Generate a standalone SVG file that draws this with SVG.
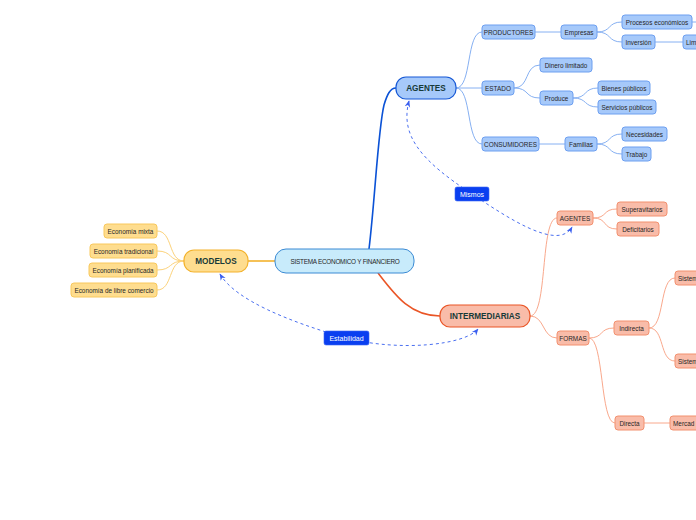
<svg xmlns="http://www.w3.org/2000/svg" width="696" height="520" viewBox="0 0 696 520">
<style>
text{font-family:"Liberation Sans",Arial,sans-serif;text-anchor:middle;dominant-baseline:central}
.bs rect{fill:#a6c9fa;stroke:#6d9ff0;stroke-width:1}
.os rect{fill:#f9bca9;stroke:#f2906f;stroke-width:1}
.ys rect{fill:#fedd8f;stroke:#f8c85c;stroke-width:1}
.st{font-size:6.4px;fill:#262626}
.mt{font-size:8.2px;fill:#173a38;font-weight:bold}
.lb rect{fill:#0a3ff0;stroke:#3a64f5;stroke-width:0.6}
.lt{font-size:7px;fill:#ffffff}
.bl{fill:none;stroke:#86b0f2;stroke-width:1}
.ol{fill:none;stroke:#f9a88c;stroke-width:1}
.yl{fill:none;stroke:#fcd27a;stroke-width:1}
.dl{fill:none;stroke:#4a6ff0;stroke-width:1;stroke-dasharray:3,3;marker-start:url(#ar);marker-end:url(#ar)}
</style>
<defs>
<marker id="ar" viewBox="0 0 10 10" refX="9" refY="5" markerWidth="7" markerHeight="7" markerUnits="userSpaceOnUse" orient="auto-start-reverse">
<path d="M0,1 L10,5 L0,9 L3,5 Z" fill="#3a5ff0"/>
</marker>
</defs>
<rect width="696" height="520" fill="#ffffff"/>
<g id="connectors">
<path d="M369,249 C375,200 378,130 384,105 C387,95 390,88 396,88" fill="none" stroke="#0b52d6" stroke-width="1.6"/>
<path d="M275,261 L248,261" fill="none" stroke="#f3b22c" stroke-width="1.6"/>
<path d="M378,273 C395,295 410,316 440,316" fill="none" stroke="#ea5526" stroke-width="1.6"/>
<path class="bl" d="M456,88 C472,88 466,32 482,32"/>
<path class="bl" d="M456,88 L482,88"/>
<path class="bl" d="M456,88 C472,88 466,144 482,144"/>
<path class="bl" d="M535,32 L561,32"/>
<path class="bl" d="M597,32 C612,32 607,22 622,22"/>
<path class="bl" d="M597,32 C612,32 607,42 622,42"/>
<path class="bl" d="M692,22 L696,22"/>
<path class="bl" d="M655,42 L683,42"/>
<path class="bl" d="M514,88 C530,88 524,65 540,65"/>
<path class="bl" d="M514,88 C530,88 524,98 540,98"/>
<path class="bl" d="M573,98 C588,98 583,88 598,88"/>
<path class="bl" d="M573,98 C588,98 583,107 598,107"/>
<path class="bl" d="M539,144 L565,144"/>
<path class="bl" d="M597,144 C612,144 607,134 622,134"/>
<path class="bl" d="M597,144 C612,144 607,154 622,154"/>
<path class="yl" d="M184,261 C168,261 173,231 157,231"/>
<path class="yl" d="M184,261 C168,261 173,251 157,251"/>
<path class="yl" d="M184,261 C168,261 173,270 157,270"/>
<path class="yl" d="M184,261 C168,261 173,290 157,290"/>
<path class="ol" d="M530,316 C548,316 540,218 557,218"/>
<path class="ol" d="M530,316 C545,316 542,338 557,338"/>
<path class="ol" d="M593,218 C608,218 602,209 617,209"/>
<path class="ol" d="M593,218 C608,218 602,229 617,229"/>
<path class="ol" d="M589,338 C604,338 599,328 614,328"/>
<path class="ol" d="M589,338 C604,338 600,423 615,423"/>
<path class="ol" d="M649,328 C665,328 659,278 675,278"/>
<path class="ol" d="M649,328 C665,328 659,361 675,361"/>
<path class="ol" d="M644,423 L670,423"/>
<path class="dl" d="M409,101 C400,135 420,160 472,194 C505,216 558,252 572,227"/>
<path class="dl" d="M220,274 C235,300 290,322 346,338 C400,352 465,345 478,329"/>
</g>
<g id="n-central"><rect x="275" y="249" width="139" height="24" rx="11" fill="#c8ebfb" stroke="#3a8ad4" stroke-width="1"/><text class="st" x="345" y="261.5" font-size="6.3" letter-spacing="-0.25" fill="#1e2e45">SISTEMA ECONOMICO Y FINANCIERO</text></g>
<g id="n-agentes"><rect x="396" y="77" width="60" height="22" rx="10" fill="#a6c9fa" stroke="#1759d6" stroke-width="1.2"/><text class="mt" x="426" y="88.5">AGENTES</text></g>
<g id="n-modelos"><rect x="184" y="250" width="64" height="22" rx="10" fill="#fedd8f" stroke="#f3b22c" stroke-width="1.2"/><text class="mt" x="216" y="261.5">MODELOS</text></g>
<g id="n-intermediarias"><rect x="440" y="305" width="90" height="22" rx="10" fill="#f9bca9" stroke="#ea5526" stroke-width="1.2"/><text class="mt" x="485" y="316.5">INTERMEDIARIAS</text></g>
<g id="n-productores" class="bs"><rect x="482" y="25" width="53" height="14" rx="3"/><text class="st" x="508.5" y="32.3">PRODUCTORES</text></g>
<g id="n-empresas" class="bs"><rect x="561" y="25" width="36" height="14" rx="3"/><text class="st" x="579" y="32.3">Empresas</text></g>
<g id="n-procesos" class="bs"><rect x="622" y="15" width="70" height="14" rx="3"/><text class="st" x="657" y="22.3">Procesos económicos</text></g>
<g id="n-inversion" class="bs"><rect x="622" y="35" width="33" height="14" rx="3"/><text class="st" x="638.5" y="42.3">Inversión</text></g>
<g id="n-lim" class="bs"><rect x="683" y="35" width="40" height="14" rx="3"/><text class="st" x="686" y="42.3" style="text-anchor:start">Lim</text></g>
<g id="n-estado" class="bs"><rect x="482" y="81" width="32" height="14" rx="3"/><text class="st" x="498" y="88.3">ESTADO</text></g>
<g id="n-dinero" class="bs"><rect x="540" y="58" width="52" height="14" rx="3"/><text class="st" x="566" y="65.3">Dinero limitado</text></g>
<g id="n-produce" class="bs"><rect x="540" y="91" width="33" height="14" rx="3"/><text class="st" x="556.5" y="98.3">Produce</text></g>
<g id="n-bienes" class="bs"><rect x="598" y="81" width="52" height="14" rx="3"/><text class="st" x="624" y="88.3">Bienes públicos</text></g>
<g id="n-servicios" class="bs"><rect x="598" y="100" width="58" height="14" rx="3"/><text class="st" x="627" y="107.3">Servicios públicos</text></g>
<g id="n-consumidores" class="bs"><rect x="482" y="137" width="57" height="14" rx="3"/><text class="st" x="510.5" y="144.3">CONSUMIDORES</text></g>
<g id="n-familias" class="bs"><rect x="565" y="137" width="32" height="14" rx="3"/><text class="st" x="581" y="144.3">Familias</text></g>
<g id="n-necesidades" class="bs"><rect x="622" y="127" width="45" height="14" rx="3"/><text class="st" x="644.5" y="134.3">Necesidades</text></g>
<g id="n-trabajo" class="bs"><rect x="622" y="147" width="29" height="14" rx="3"/><text class="st" x="636.5" y="154.3">Trabajo</text></g>
<g id="n-mixta" class="ys"><rect x="104" y="224" width="53" height="14" rx="3"/><text class="st" x="130.5" y="231.3">Economía mixta</text></g>
<g id="n-tradicional" class="ys"><rect x="90" y="244" width="67" height="14" rx="3"/><text class="st" x="123.5" y="251.3">Economía tradicional</text></g>
<g id="n-planificada" class="ys"><rect x="89" y="263" width="68" height="14" rx="3"/><text class="st" x="123" y="270.3">Economía planificada</text></g>
<g id="n-libre" class="ys"><rect x="71" y="283" width="86" height="14" rx="3"/><text class="st" x="114" y="290.3">Economía de libre comercio</text></g>
<g id="n-agentes2" class="os"><rect x="557" y="211" width="36" height="14" rx="3"/><text class="st" x="575" y="218.3">AGENTES</text></g>
<g id="n-superavitarios" class="os"><rect x="617" y="202" width="50" height="14" rx="3"/><text class="st" x="642" y="209.3">Superavitarios</text></g>
<g id="n-deficitarios" class="os"><rect x="617" y="222" width="42" height="14" rx="3"/><text class="st" x="638" y="229.3">Deficitarios</text></g>
<g id="n-formas" class="os"><rect x="557" y="331" width="32" height="14" rx="3"/><text class="st" x="573" y="338.3">FORMAS</text></g>
<g id="n-indirecta" class="os"><rect x="614" y="321" width="35" height="14" rx="3"/><text class="st" x="631.5" y="328.3">Indirecta</text></g>
<g id="n-sistem1" class="os"><rect x="675" y="271" width="40" height="14" rx="3"/><text class="st" x="678" y="278.3" style="text-anchor:start">Sistem</text></g>
<g id="n-sistem2" class="os"><rect x="675" y="354" width="40" height="14" rx="3"/><text class="st" x="678" y="361.3" style="text-anchor:start">Sistem</text></g>
<g id="n-directa" class="os"><rect x="615" y="416" width="29" height="14" rx="3"/><text class="st" x="629.5" y="423.3">Directa</text></g>
<g id="n-mercad" class="os"><rect x="670" y="416" width="40" height="14" rx="3"/><text class="st" x="673" y="423.3" style="text-anchor:start">Mercad</text></g>
<g id="l-mismos" class="lb"><rect x="455" y="187" width="34" height="14" rx="2"/><text class="lt" x="472" y="194.3">Mismos</text></g>
<g id="l-estabilidad" class="lb"><rect x="324" y="331" width="45" height="14" rx="2"/><text class="lt" x="346.5" y="338.3">Estabilidad</text></g>
</svg>
